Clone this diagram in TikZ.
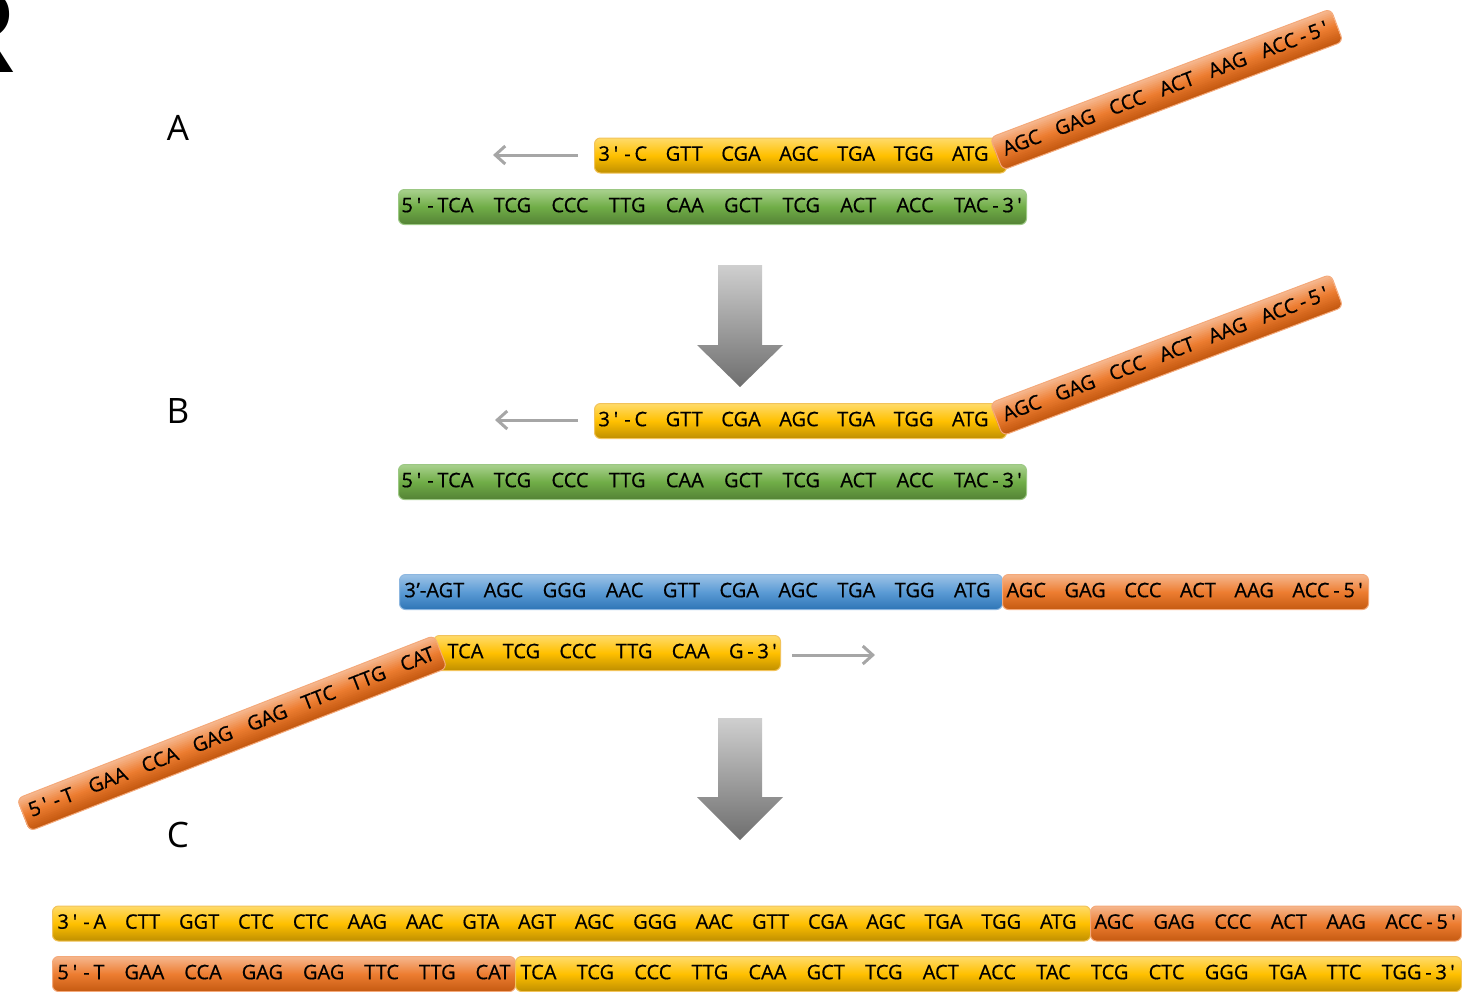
\documentclass[tikz,border=0pt]{standalone}
\usepackage{fontspec}
\setmainfont{Open Sans}
\newfontfamily\dnafont[Ligatures=TeXOff,FakeBold=0.6]{Open Sans}
\newfontfamily\rfont{Liberation Sans}
\usetikzlibrary{arrows.meta}
% a strand's text, spread over a given width
\newcommand\dna[2]{\hbox to #1{\spaceskip=8.5pt plus 20pt minus 6pt\relax #2}}
% leading "3'-" and trailing "-3'" as printed (wide characters)
\newcommand\lead[1]{\makebox[6.5pt][l]{#1}\makebox[4.5pt]{'}\makebox[7pt]{-}}
\newcommand\trail[1]{\makebox[7pt]{-}\makebox[6.5pt][l]{#1}\makebox[4pt]{'}}
\definecolor{ylT}{HTML}{FFDB6A}
\definecolor{ylM}{HTML}{FFC000}
\definecolor{ylB}{HTML}{BF8F00}
\definecolor{ylD}{HTML}{F2C35A}
\definecolor{orT}{HTML}{F6B78E}
\definecolor{orM}{HTML}{ED7D31}
\definecolor{orB}{HTML}{C55A11}
\definecolor{orD}{HTML}{F4A97A}
\definecolor{grT}{HTML}{A9D18E}
\definecolor{grM}{HTML}{70AD47}
\definecolor{grB}{HTML}{548235}
\definecolor{grD}{HTML}{9CC884}
\definecolor{blT}{HTML}{9DC3E6}
\definecolor{blM}{HTML}{5B9BD5}
\definecolor{blB}{HTML}{2E75B6}
\definecolor{blD}{HTML}{8DB7E0}
\definecolor{arrowgray}{HTML}{A6A6A6}
\definecolor{bigT}{HTML}{CFCFCF}
\definecolor{bigB}{HTML}{6E6E6E}
% gradient fill of a tilted bar, drawn in the bar's own (rotated) frame
% #1 length in px, #2 top, #3 middle, #4 bottom colour
\newcommand\tiltfill[4]{%
  \begin{scope}
    \clip[rounded corners=3pt] (0,-17.5) rectangle (#1,17.5);
    \foreach \i in {0,...,17} {
      \pgfmathtruncatemacro\pa{min(100,round(200*\i/17))}
      \pgfmathtruncatemacro\pb{max(0,round(200*\i/17-100))}
      \ifnum\pb>0 \colorlet{stripe}{#4!\pb!#3}\else\colorlet{stripe}{#3!\pa!#2}\fi
      \fill[stripe] (-2,-17.5+\i*35/18) rectangle (#1+2,-17.5+\i*35/18+2.6);
    }
  \end{scope}}
\tikzset{
  bar/.style={rectangle, rounded corners=3pt, anchor=west, inner xsep=2pt, inner ysep=0pt,
    minimum height=17.5pt, text height=5.2pt, text depth=0pt,
    font=\dnafont\fontsize{10}{12}\selectfont, text=black, line width=0.5pt},
  ybar/.style={bar, draw=ylD, top color=ylT, bottom color=ylB, middle color=ylM},
  obar/.style={bar, draw=orD, top color=orT, bottom color=orB, middle color=orM},
  gbar/.style={bar, draw=grD, top color=grT, bottom color=grB, middle color=grM},
  bbar/.style={bar, draw=blD, top color=blT, bottom color=blB, middle color=blM},
  tiltbar/.style={bar, draw=orD, transform shape},
  thinarrow/.style={draw=arrowgray, line width=1.5pt, -{Straight Barb[length=5pt,width=9pt]}},
  bigarrow/.style={top color=bigT, bottom color=bigB, draw=none},
  steplabel/.style={font=\fontsize{17.5}{20}\selectfont, inner sep=0pt}
}
\begin{document}
\begin{tikzpicture}[x=0.5pt,y=-0.5pt]
\useasboundingbox (0,0) rectangle (1462,991);
\clip (0,0) rectangle (1462,991);

% partial letter at top left
\node[anchor=base east, inner sep=0pt, font=\rfont\bfseries\fontsize{60}{60}\selectfont] (R) at (17,72) {R};

% step labels
\node[steplabel] (lA) at (178,128) {A};
\node[steplabel] (lB) at (178,411) {B};
\node[steplabel] (lC) at (178,835) {C};

% ---------- A ----------
\node[ybar, inner xsep=2pt] (yA) at (594,155.5) {\dna{202pt}{\lead{3}C GTT CGA AGC TGA TGG ATG\hspace{7pt}}};
\begin{scope}[shift={(996,154)}, rotate=20.7]
  \tiltfill{364}{orT}{orM}{orB}
  \node[tiltbar, inner xsep=4pt] (oA) at (0,0) {\dna{174pt}{AGC GAG CCC ACT AAG ACC\trail{5}}};
\end{scope}
\node[gbar, inner xsep=1.5pt] (gA) at (398,207) {\dna{311pt}{\lead{5}TCA TCG CCC TTG CAA GCT TCG ACT ACC TAC\trail{3}}};
\coordinate (aA1) at (578,155);
\coordinate (aA2) at (493,155);
\draw[thinarrow] (aA1) -- (aA2);

% big arrow 1
\shade[bigarrow] (718,265) -- (762,265) -- (762,345) -- (783,345) -- (740,387) -- (697,345) -- (718,345) -- cycle;

% ---------- B ----------
\node[ybar, inner xsep=2pt] (yB) at (594,421) {\dna{202pt}{\lead{3}C GTT CGA AGC TGA TGG ATG\hspace{7pt}}};
\begin{scope}[shift={(996,419.5)}, rotate=20.7]
  \tiltfill{364}{orT}{orM}{orB}
  \node[tiltbar, inner xsep=4pt] (oB) at (0,0) {\dna{174pt}{AGC GAG CCC ACT AAG ACC\trail{5}}};
\end{scope}
\node[gbar, inner xsep=1.5pt] (gB) at (398,482) {\dna{311pt}{\lead{5}TCA TCG CCC TTG CAA GCT TCG ACT ACC TAC\trail{3}}};
\coordinate (aB1) at (578,420);
\coordinate (aB2) at (495,420);
\draw[thinarrow] (aB1) -- (aB2);

\node[bbar, inner xsep=2.5pt] (bl) at (399,592) {\dna{296.5pt}{\makebox[6pt][l]{3}’-AGT AGC GGG AAC GTT CGA AGC TGA TGG ATG\hspace{3.5pt}}};
\node[obar, inner xsep=2pt] (oBl) at (1002,592) {\dna{179pt}{AGC GAG CCC ACT AAG ACC\trail{5}}};

\node[ybar, inner xsep=1pt] (yP) at (433,653) {\dna{171.5pt}{\hspace{6pt}TCA TCG CCC TTG CAA G\trail{3}}};
\begin{scope}[shift={(23,815)}, rotate=21.35]
  \tiltfill{448}{orT}{orM}{orB}
  \node[tiltbar, inner xsep=3.5pt] (oP) at (0,0) {\dna{217pt}{\lead{5}T GAA CCA GAG GAG TTC TTG CAT}};
\end{scope}
\coordinate (aC1) at (792,655);
\coordinate (aC2) at (875,655);
\draw[thinarrow] (aC1) -- (aC2);

% big arrow 2
\shade[bigarrow] (718,718) -- (762,718) -- (762,797) -- (783,797) -- (740,840) -- (697,797) -- (718,797) -- cycle;

% ---------- C ----------
\node[ybar, inner xsep=2.5pt] (yT) at (52,923.5) {\dna{514pt}{\lead{3}A CTT GGT CTC CTC AAG AAC GTA AGT AGC GGG AAC GTT CGA AGC TGA TGG ATG\hspace{4.5pt}}};
\node[obar, inner xsep=2pt] (oT) at (1090,923.5) {\dna{181.5pt}{AGC GAG CCC ACT AAG ACC\trail{5}}};
\node[obar, inner xsep=2.5pt] (oBt) at (52,974) {\dna{226.5pt}{\lead{5}T GAA CCA GAG GAG TTC TTG CAT}};
\node[ybar, inner xsep=2.5pt] (yBt) at (515,974) {\dna{468pt}{TCA TCG CCC TTG CAA GCT TCG ACT ACC TAC TCG CTC GGG TGA TTC TGG\trail{3}}};
\end{tikzpicture}
\end{document}
